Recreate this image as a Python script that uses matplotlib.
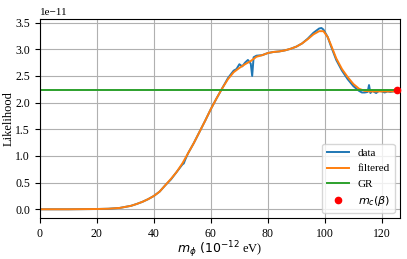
import matplotlib
matplotlib.use("Agg")
import matplotlib.pyplot as plt
from matplotlib.ticker import MultipleLocator
import numpy as np

plt.rcParams["font.family"] = ["Liberation Serif", "DejaVu Serif"]
plt.rcParams["font.size"] = 9

# raw likelihood (units of 1e-11)
m_data = [0, 10, 20, 24, 28, 32, 34, 36, 38, 40, 42, 44, 46, 48, 50, 50.5, 51, 52,
          54, 56, 58, 60, 62, 64, 66, 67, 68, 69, 70, 71, 72, 73, 74, 74.5, 75,
          76, 78, 80, 82, 84, 86, 88, 90, 92, 94, 96, 98, 98.8, 99.5, 101, 102,
          104, 106, 108, 110, 112, 113, 114, 115, 115.5, 116, 116.5, 117, 118,
          119, 120, 121, 122, 123, 124]
L_data = [0.0, 0.0, 0.005, 0.01, 0.025, 0.065, 0.10, 0.14, 0.19, 0.25, 0.33, 0.45,
          0.56, 0.70, 0.84, 0.86, 0.93, 1.05,
          1.24, 1.45, 1.66, 1.88, 2.08, 2.27, 2.46, 2.53, 2.60, 2.63, 2.72, 2.68,
          2.75, 2.80, 2.73, 2.50, 2.85,
          2.88, 2.89, 2.93, 2.95, 2.96, 2.98, 3.01, 3.05, 3.11, 3.20, 3.31, 3.39,
          3.40, 3.37, 3.23, 3.08,
          2.80, 2.60, 2.44, 2.31, 2.22, 2.19, 2.19, 2.20, 2.33, 2.18, 2.22, 2.21,
          2.18, 2.22, 2.21, 2.19, 2.21, 2.20, 2.21]

# filtered likelihood
m_filt = [0, 10, 20, 24, 28, 32, 34, 36, 38, 40, 42, 44, 46, 48, 50, 52, 54, 56,
          58, 60, 62, 64, 66, 68, 70, 72, 74, 76, 78, 80, 82, 84, 86, 88, 90, 92,
          94, 96, 98, 99.5, 101, 102, 104, 106, 108, 110, 112, 114, 116, 118,
          120, 122, 124]
L_filt = [0.0, 0.0, 0.005, 0.01, 0.025, 0.065, 0.10, 0.14, 0.19, 0.25, 0.33, 0.45,
          0.57, 0.70, 0.86, 1.05, 1.24, 1.45, 1.66, 1.88, 2.08, 2.27, 2.44, 2.57,
          2.65, 2.72, 2.78, 2.86, 2.89, 2.93, 2.95, 2.96, 2.98, 3.01, 3.05, 3.11,
          3.19, 3.28, 3.34, 3.34, 3.23, 3.10, 2.83, 2.63, 2.48, 2.35, 2.26, 2.22,
          2.21, 2.21, 2.21, 2.21, 2.21]

L_GR = 2.235
m_c = 125.3

fig = plt.figure(figsize=(4.07, 2.59), dpi=100)
ax = fig.add_axes([0.098, 0.157, 0.885, 0.770])

ax.plot(m_data, np.array(L_data) * 1e-11, color="C0", lw=1.4, label="data")
ax.plot(m_filt, np.array(L_filt) * 1e-11, color="C1", lw=1.4, label="filtered")
ax.axhline(L_GR * 1e-11, color="C2", lw=1.4, label="GR")
ax.plot([m_c], [L_GR * 1e-11], "o", color="red", ms=4.5, label=r"$m_c(\beta)$",
        clip_on=False, zorder=5)

ax.set_xlim(0, 126.4)
ax.set_xticks([0, 20, 40, 60, 80, 100, 120])
ax.yaxis.set_major_locator(MultipleLocator(0.5e-11))
ax.tick_params(labelsize=8.5)
ax.yaxis.get_offset_text().set_fontsize(8)
ax.grid(True, color="#b0b0b0", lw=0.8)
ax.set_xlabel(r"$m_\phi\ (10^{-12}$ eV)")
ax.xaxis.set_label_coords(0.5, -0.105)
ax.set_ylabel("Likelihood")
ax.yaxis.set_label_coords(-0.069, 0.5)
ax.legend(loc="lower right", fontsize=8, handlelength=2.0)

fig.savefig("out.png", dpi=100)
